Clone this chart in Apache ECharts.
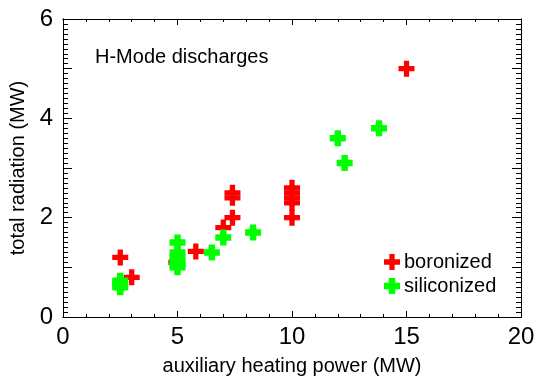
<!DOCTYPE html>
<html>
<head>
<meta charset="utf-8">
<script src="https://cdn.jsdelivr.net/npm/echarts@6/dist/echarts.min.js"></script>
<style>
  html, body { margin: 0; padding: 0; background: #fff; }
  #chart { width: 539px; height: 381px; }
</style>
</head>
<body>
<div id="chart"></div>
<script>
// boronized shots: auxiliary heating power (MW) vs total radiation (MW)
const boronizedPower = [2.5, 3.0, 4.95, 5.8, 7.0, 7.4, 7.4, 7.4, 10, 10, 10, 10, 10, 15]
const boronizedRad = [1.2, 0.8, 1.1, 1.32, 1.8, 2.0, 2.4, 2.5, 2.0, 2.3, 2.4, 2.5, 2.6, 5.0]

// siliconized shots
const siliconizedPower = [2.5, 2.5, 2.5, 5, 5, 5, 5, 5, 5, 6.5, 7.0, 8.3, 12.0, 12.3, 13.8]
const siliconizedRad = [0.73, 0.66, 0.6, 1.5, 1.3, 1.2, 1.12, 1.05, 1.0, 1.3, 1.6, 1.7, 3.6, 3.1, 3.8]

const xTicks = [0, 5, 10, 15, 20]
const yTicks = [0, 2, 4, 6]

const font = '"Liberation Sans", Arial, Helvetica, sans-serif'
const thinPlus = 'path://M3.35,0H6.65V3.35H10V6.65H6.65V10H3.35V6.65H0V3.35H3.35Z'
const thickPlus = 'path://M3,0H7V3H10V7H7V10H3V7H0V3H3Z'

const chart = echarts.init(document.getElementById('chart'))

const pairs = (xs, ys) => xs.map((x, i) => [x, ys[i]])

// one axis per tick set; negative length puts the ticks inside the frame
const tickAxis = (position, min, max, interval, length, extra = {}) => ({
  type: 'value',
  position,
  min,
  max,
  interval,
  axisLine: { show: true, onZero: false, lineStyle: { color: '#000', width: 1 } },
  axisTick: { show: true, length, lineStyle: { color: '#000', width: 1 } },
  axisLabel: { show: false },
  splitLine: { show: false },
  ...extra,
})

const xMin = xTicks[0]
const xMax = xTicks[xTicks.length - 1]
const yMin = yTicks[0]
const yMax = yTicks[yTicks.length - 1]

const option = {
  animation: false,
  backgroundColor: '#fff',
  textStyle: { fontFamily: font },
  grid: { left: 63, top: 19, right: 18, bottom: 62 },
  xAxis: [
    tickAxis('bottom', xMin, xMax, 5, -6, {
      name: 'auxiliary heating power (MW)',
      nameLocation: 'middle',
      nameGap: 39,
      nameTextStyle: { fontSize: 20, color: '#000', fontFamily: font },
      axisLabel: { show: true, fontSize: 24, color: '#000', margin: 8, fontFamily: font },
    }),
    tickAxis('bottom', xMin, xMax, 1, -3),
    tickAxis('top', xMin, xMax, 5, -6),
    tickAxis('top', xMin, xMax, 1, -3),
  ],
  yAxis: [
    tickAxis('left', yMin, yMax, 1, -9, {
      name: 'total radiation (MW)',
      nameLocation: 'middle',
      nameGap: 28,
      nameTextStyle: { fontSize: 20, color: '#000', fontFamily: font },
      axisLabel: {
        show: true,
        fontSize: 24,
        color: '#000',
        margin: 10,
        fontFamily: font,
        formatter: (v) => (yTicks.includes(v) ? String(v) : ''),
      },
    }),
    tickAxis('left', yMin, yMax, 0.1, -5),
    tickAxis('right', yMin, yMax, 1, -9),
    tickAxis('right', yMin, yMax, 0.1, -5),
  ],
  legend: {
    orient: 'vertical',
    left: 379,
    top: 247,
    itemWidth: 16,
    itemHeight: 16,
    itemGap: 4,
    textStyle: { fontSize: 20, color: '#000', fontFamily: font, padding: [0, 0, 0, -1] },
    data: [
      { name: 'boronized', icon: thinPlus },
      { name: 'siliconized', icon: thickPlus },
    ],
  },
  graphic: [
    {
      type: 'text',
      left: 95,
      top: 47,
      style: { text: 'H-Mode discharges', font: '20px ' + font, fill: '#000' },
    },
  ],
  series: [
    {
      name: 'boronized',
      type: 'scatter',
      xAxisIndex: 0,
      yAxisIndex: 0,
      symbol: thinPlus,
      symbolSize: 16,
      itemStyle: { color: '#ff0000', opacity: 1 },
      data: pairs(boronizedPower, boronizedRad),
    },
    {
      name: 'siliconized',
      type: 'scatter',
      xAxisIndex: 0,
      yAxisIndex: 0,
      symbol: thickPlus,
      symbolSize: 16,
      itemStyle: { color: '#00ff00', opacity: 1 },
      data: pairs(siliconizedPower, siliconizedRad),
    },
  ],
}

chart.setOption(option)
</script>
</body>
</html>
